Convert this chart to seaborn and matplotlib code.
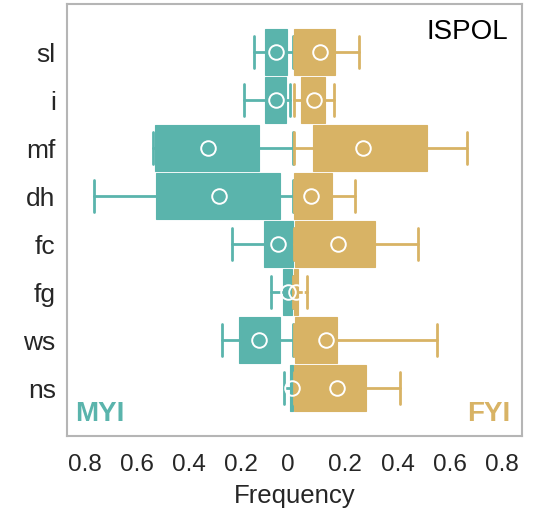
import numpy as np
import matplotlib
matplotlib.use("Agg")
import matplotlib.pyplot as plt
import seaborn as sns

categories = ["sl", "i", "mf", "dh", "fc", "fg", "ws", "ns"]

# MYI (multi-year ice) statistics, frequency (plotted to the left)
myi_whislo = [0.000, 0.013, 0.000, 0.000, 0.000, 0.000, 0.000, 0.000]
myi_q1     = [0.025, 0.026, 0.131, 0.049, 0.001, 0.003, 0.052, 0.000]
myi_q3     = [0.107, 0.107, 0.531, 0.525, 0.113, 0.039, 0.208, 0.013]
myi_whishi = [0.150, 0.189, 0.540, 0.764, 0.235, 0.084, 0.273, 0.036]
myi_mean   = [0.067, 0.067, 0.329, 0.286, 0.058, 0.020, 0.132, 0.006]

# FYI (first-year ice) statistics, frequency (plotted to the right)
fyi_whislo = [0.003, 0.003, 0.003, 0.003, 0.003, 0.000, 0.003, 0.003]
fyi_q1     = [0.003, 0.030, 0.076, 0.003, 0.006, 0.003, 0.006, 0.003]
fyi_q3     = [0.160, 0.121, 0.513, 0.147, 0.315, 0.017, 0.166, 0.281]
fyi_whishi = [0.252, 0.155, 0.665, 0.236, 0.479, 0.051, 0.550, 0.411]
fyi_mean   = [0.102, 0.079, 0.268, 0.070, 0.172, 0.012, 0.127, 0.166]

tick_values = [-0.8, -0.6, -0.4, -0.2, -0.02, 0.2, 0.4, 0.6, 0.8]
tick_labels = ["0.8", "0.6", "0.4", "0.2", "0", "0.2", "0.4", "0.6", "0.8"]

sns.set_theme(style="white")
plt.rcParams["font.family"] = ["Liberation Sans", "DejaVu Sans"]

gold = "#d8b365"
teal = "#5ab4ac"

fig = plt.figure(figsize=(5.39, 5.2), dpi=100)
ax = fig.add_axes([0.124, 0.1615, 0.844, 0.8305])


def make_stats(whislo, q1, q3, whishi, mean, sign):
    stats = []
    for a, b, c, d, m in zip(whislo, q1, q3, whishi, mean):
        stats.append(dict(whislo=sign * a, q1=sign * b, q3=sign * c,
                          whishi=sign * d, med=sign * m, mean=sign * m,
                          fliers=[]))
    return stats


positions = np.arange(len(categories))
for stats, col in [
    (make_stats(myi_whislo, myi_q1, myi_q3, myi_whishi, myi_mean, -1), teal),
    (make_stats(fyi_whislo, fyi_q1, fyi_q3, fyi_whishi, fyi_mean, 1), gold),
]:
    ax.bxp(stats, positions=positions, widths=0.96, capwidths=0.66,
           orientation="horizontal", patch_artist=True, showmeans=True,
           showfliers=False, manage_ticks=False,
           boxprops=dict(facecolor=col, edgecolor=col, linewidth=0.8),
           whiskerprops=dict(color=col, linewidth=2.0),
           capprops=dict(color=col, linewidth=2.0),
           medianprops=dict(linewidth=0),
           meanprops=dict(marker="o", markerfacecolor="none",
                          markeredgecolor="white", markersize=10.5,
                          markeredgewidth=1.4))

ax.set_xlim(-0.869, 0.877)
ax.set_ylim(8.0, -1.0)
ax.set_yticks(positions)
ax.set_yticklabels(categories, fontsize=19)
ax.set_xticks(tick_values)
ax.set_xticklabels(tick_labels, fontsize=17.5)
ax.tick_params(axis="both", length=0)
ax.tick_params(axis="y", pad=8)
ax.tick_params(axis="x", pad=13)
ax.set_xlabel("Frequency", fontsize=18.5, labelpad=6)

for s in ax.spines.values():
    s.set_color("#b5b5b5")
    s.set_linewidth(1.5)

ax.text(0.97, 0.935, "ISPOL", transform=ax.transAxes, ha="right",
        va="center", fontsize=20, color="black")
ax.text(0.018, 0.05, "MYI", transform=ax.transAxes, ha="left",
        va="center", fontsize=20, fontweight="bold", color=teal)
ax.text(0.974, 0.05, "FYI", transform=ax.transAxes, ha="right",
        va="center", fontsize=20, fontweight="bold", color=gold)

fig.savefig("out.png", dpi=100)
